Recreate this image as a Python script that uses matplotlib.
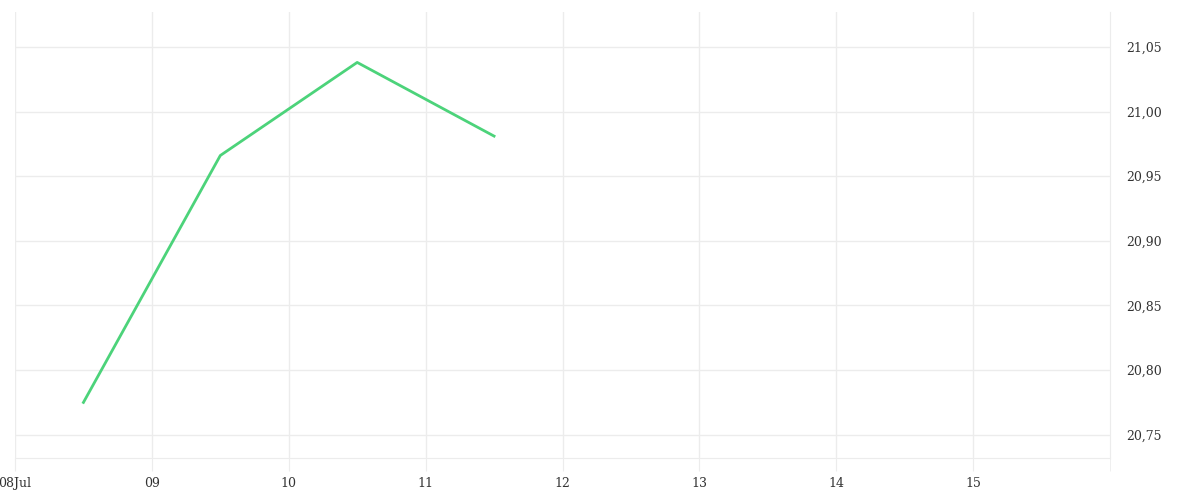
import matplotlib
matplotlib.use("Agg")
import matplotlib.pyplot as plt
from matplotlib.ticker import FuncFormatter
import datetime as dt

# values
times = ["2024-07-08 12:00", "2024-07-09 12:00", "2024-07-10 12:00", "2024-07-11 12:00"]
values = [20.775, 20.966, 21.038, 20.981]
tick_days = ["2024-07-08", "2024-07-09", "2024-07-10", "2024-07-11",
             "2024-07-12", "2024-07-13", "2024-07-14", "2024-07-15"]
tick_labels = ["08Jul", "09", "10", "11", "12", "13", "14", "15"]
y_ticks = [20.75, 20.80, 20.85, 20.90, 20.95, 21.00, 21.05]

x = [dt.datetime.strptime(t, "%Y-%m-%d %H:%M") for t in times]
xt = [dt.datetime.strptime(t, "%Y-%m-%d") for t in tick_days]
x_end = dt.datetime(2024, 7, 16)

plt.rcParams['font.family'] = ['DejaVu Serif']

fig = plt.figure(figsize=(12, 5), dpi=100)
ax = fig.add_axes([15/1200, 1 - 458/500, (1110-15)/1200, (458-12)/500])

grid_c = "#ececec"
ax.plot(x, values, color="#4cd37a", lw=2, zorder=3)

ax.set_xlim(xt[0], x_end)
ax.set_ylim(20.732, 21.077)

ax.set_xticks(xt)
ax.set_xticklabels(tick_labels)
ax.set_xticks([x_end], minor=True)
ax.set_yticks(y_ticks)
ax.yaxis.set_major_formatter(FuncFormatter(lambda v, p: f"{v:.2f}".replace(".", ",")))
ax.yaxis.tick_right()

ax.grid(True, color=grid_c, lw=1)
for s in ["top", "left"]:
    ax.spines[s].set_visible(False)
ax.spines["bottom"].set_color(grid_c)
ax.spines["right"].set_color(grid_c)

ax.tick_params(axis="x", which="both", length=9, color=grid_c, labelsize=9,
               labelcolor="#333333", pad=5)
ax.tick_params(axis="y", length=0, labelsize=9, labelcolor="#333333", pad=12)

fig.savefig("out.png", dpi=100)
